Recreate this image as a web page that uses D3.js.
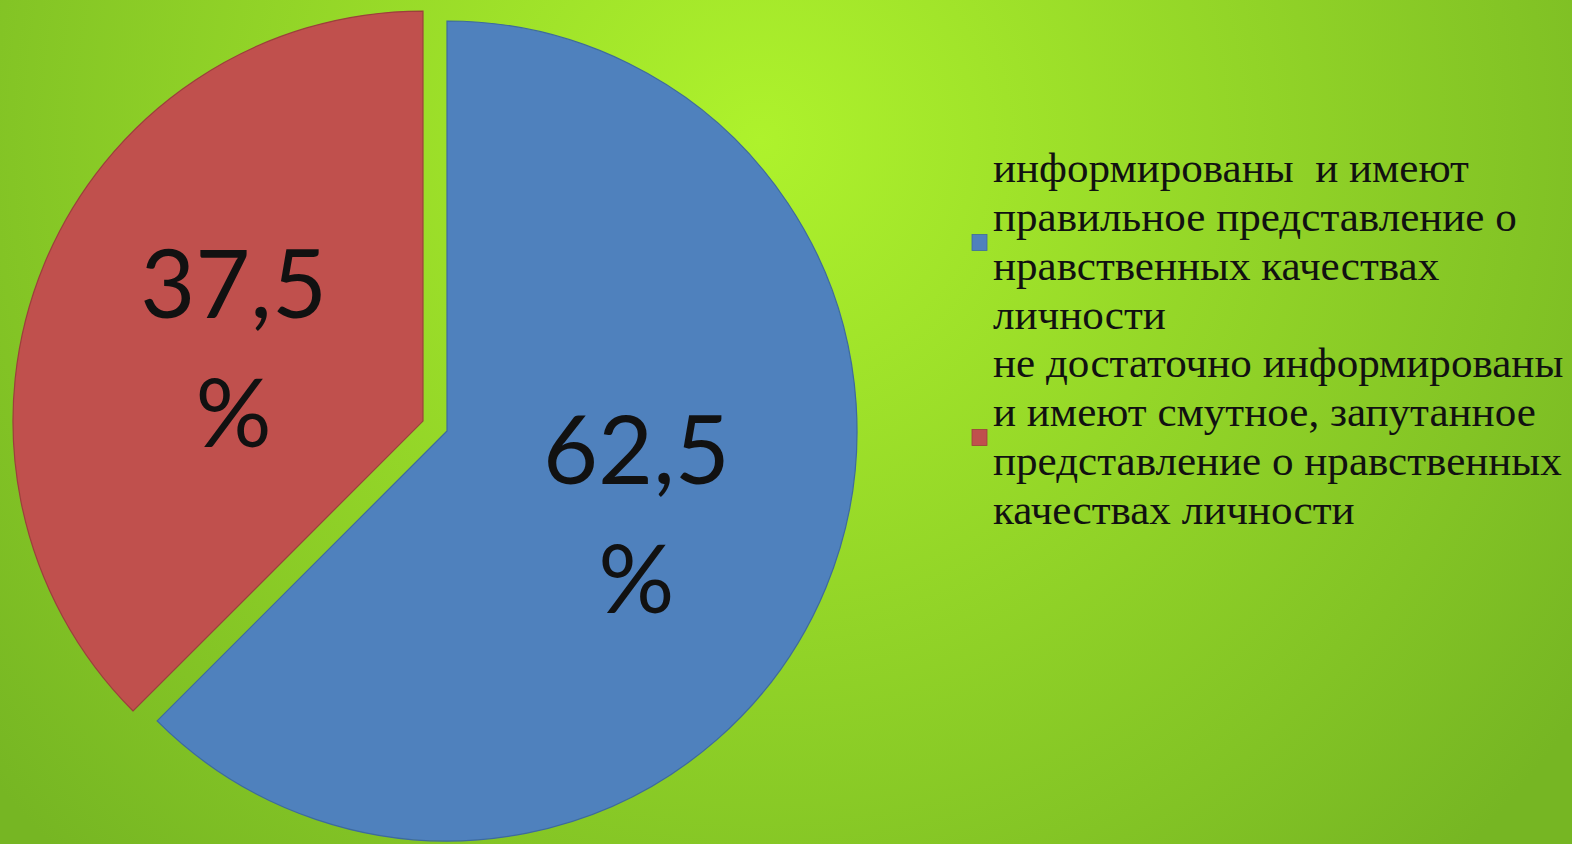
<!DOCTYPE html>
<html lang="ru">
<head>
<meta charset="UTF-8">
<title>Нравственные качества личности</title>
<script src="https://d3js.org/d3.v7.min.js"></script>
<style>
  html, body { margin: 0; padding: 0; overflow: hidden; }
  .pct { font-family: Lato, "Open Sans", sans-serif; font-size: 95px; fill: #111; text-anchor: middle; }
  .legend text { font-family: "Liberation Serif", "DejaVu Serif", serif; font-size: 42px; fill: #111; }
</style>
</head>
<body>
<div id="chart"></div>
<script>
// data
const values = [62.5, 37.5];
const valueLabels = ["62,5", "37,5"];
const legendLines = [
  ["информированы  и имеют", "правильное представление о", "нравственных качествах", "личности"],
  ["не достаточно информированы", "и имеют смутное, запутанное", "представление о нравственных", "качествах личности"]
];
const colors = ["#4f81bd", "#c0504d"];
const strokes = ["#3d6a9e", "#9c3f3c"];
const explode = [0, 26];

const W = 1572, H = 844;
const cx = 447, cy = 431, R = 410;

const svg = d3.select("#chart").append("svg")
  .attr("width", W).attr("height", H);

// background gradient
const grad = svg.append("defs").append("radialGradient")
  .attr("id", "bg").attr("gradientUnits", "userSpaceOnUse")
  .attr("cx", 760).attr("cy", 140).attr("r", 1000);
grad.append("stop").attr("offset", "0%").attr("stop-color", "#aef22c");
grad.append("stop").attr("offset", "100%").attr("stop-color", "#76b623");
svg.append("rect").attr("width", W).attr("height", H).attr("fill", "url(#bg)");

const pie = d3.pie().sort(null).value(d => d)(values);
const arc = d3.arc().innerRadius(0).outerRadius(R);

const g = svg.append("g").attr("transform", `translate(${cx},${cy})`);

const slices = g.selectAll("g.slice").data(pie).enter().append("g")
  .attr("class", "slice")
  .attr("transform", (d, i) => {
    const a = (d.startAngle + d.endAngle) / 2;
    return `translate(${Math.sin(a) * explode[i]},${-Math.cos(a) * explode[i]})`;
  });

slices.append("path")
  .attr("d", arc)
  .attr("fill", (d, i) => colors[i])
  .attr("stroke", (d, i) => strokes[i])
  .attr("stroke-width", 1.2);

slices.each(function(d, i) {
  const c = arc.centroid(d);
  const t = d3.select(this);
  t.append("text").attr("class", "pct").attr("x", c[0]).attr("y", c[1] - 25).text(valueLabels[i]);
  t.append("text").attr("class", "pct").attr("x", c[0]).attr("y", c[1] + 104).text("%");
});

// legend
const legend = svg.append("g").attr("class", "legend").attr("transform", "translate(972,0)");
const lineH = 49;
const firstBase = [182, 377];
legendLines.forEach((lines, i) => {
  const lg = legend.append("g");
  const mid = firstBase[i] + lineH * 1.5 - 14;
  lg.append("rect")
    .attr("x", 0).attr("y", mid - 8 + 1)
    .attr("width", 15).attr("height", 16)
    .attr("fill", colors[i]).attr("stroke", strokes[i]).attr("stroke-width", 0.8);
  lines.forEach((ln, j) => {
    lg.append("text")
      .attr("transform", `translate(21,${firstBase[i] + j * lineH}) scale(1.026,1)`)
      .attr("xml:space", "preserve")
      .style("white-space", "pre")
      .text(ln);
  });
});
</script>
</body>
</html>
